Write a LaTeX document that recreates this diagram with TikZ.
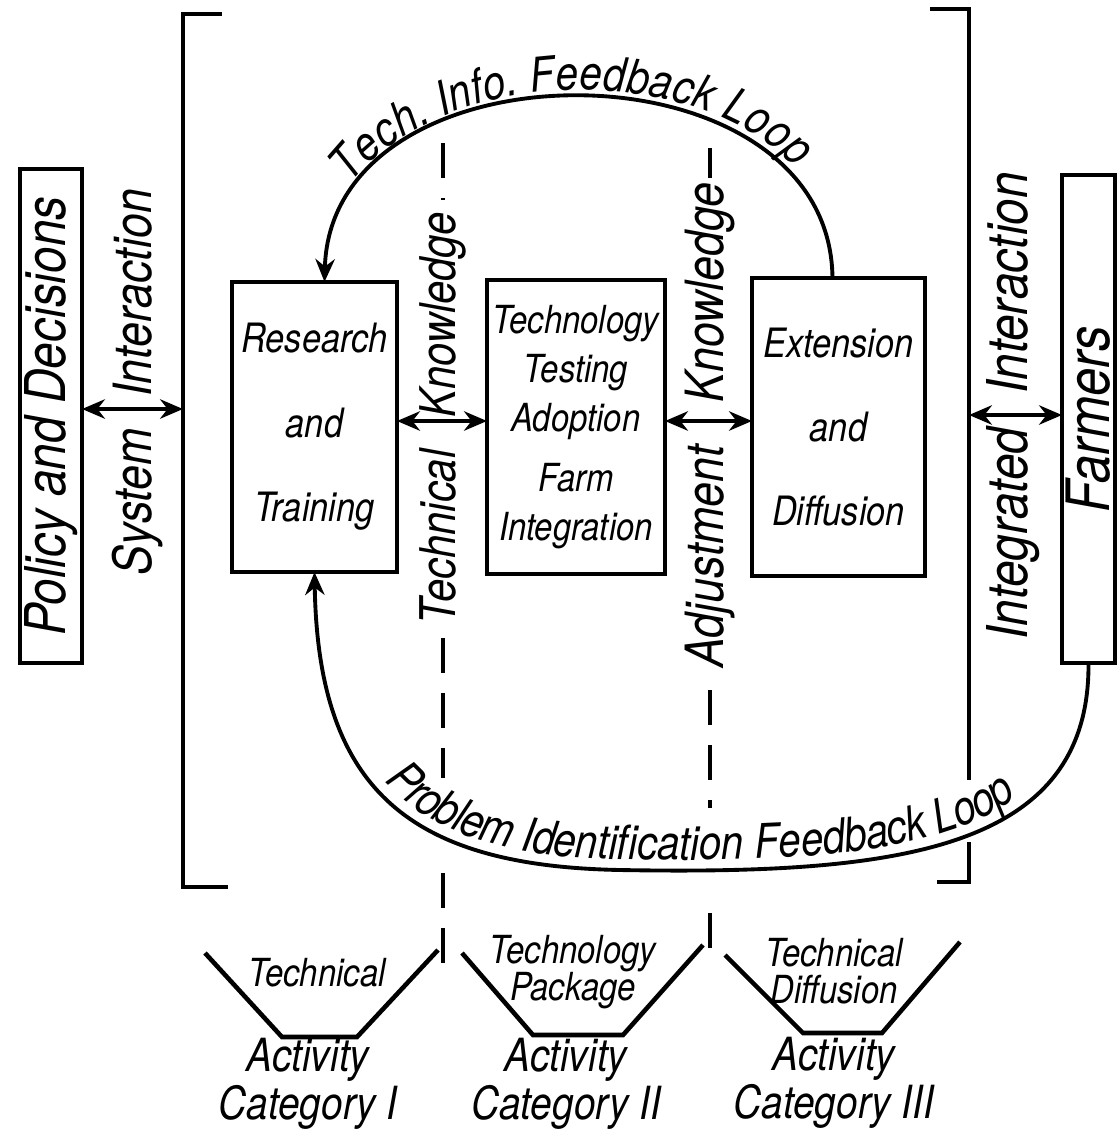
\documentclass[tikz,border=0pt]{standalone}
\usepackage{fontspec}
\setmainfont{TeX Gyre Heros}[FakeStretch=0.85]
\usetikzlibrary{arrows.meta,decorations.text,calc}

\tikzset{>={Stealth[length=6.5pt,width=5.5pt]}}

\begin{document}
\begin{tikzpicture}[x=0.01cm,y=-0.01cm,
  box/.style={draw,line width=1.1pt,inner sep=0pt,outer sep=0pt,align=center,font=\itshape},
  lbl/.style={rotate=90,inner sep=0pt,font=\itshape},
  brk/.style={line width=1.4pt},
  dsh/.style={line width=1pt,dash pattern=on 3.5mm off 2mm},
  fun/.style={line width=1.3pt},
  ftxt/.style={align=center,inner sep=0pt,font=\itshape\fontsize{11}{10.5}\selectfont},
  cat/.style={align=center,inner sep=0pt,font=\itshape\fontsize{13}{12}\selectfont},
  loop/.style={line width=1.1pt}]

\useasboundingbox (0,0) rectangle (1119,1135);

% side boxes
\node[box,rotate=90,minimum width=4.93cm,minimum height=0.62cm,
  font=\itshape\fontsize{16}{16}\selectfont] (policy) at (51,416) {Policy and Decisions};
\node[box,rotate=90,minimum width=4.88cm,minimum height=0.53cm,
  font=\itshape\fontsize{17}{17}\selectfont] (farmers) at (1088.5,419) {Farmers};

% system boundary
\coordinate (sysL) at (183,409);
\coordinate (sysR) at (969,415);
\draw[brk] (222,14) -- (183,14) -- (183,887) -- (228,887);
\draw[brk] (930,9) -- (969,9) -- (969,780);
\draw[brk] (969,842) -- (969,882) -- (937,882);
\draw[<->,line width=1.1pt] (policy.south |- sysL) -- (sysL);
\draw[<->,line width=1.1pt] (sysR) -- (sysR -| farmers.north);
\node[lbl,font=\itshape\fontsize{15}{15}\selectfont] (sysint) at (138,382) {System\hspace{0.6em}Interaction};
\node[lbl,font=\itshape\fontsize{16}{16}\selectfont] (intint) at (1013,406) {Integrated\hspace{0.6em}Interaction};

% activity boxes
\node[box,minimum width=1.65cm,minimum height=2.9cm,
  font=\itshape\fontsize{11.5}{24}\selectfont] (res) at (314.5,427) {Research\\and\\Training};
\node[box,minimum width=1.78cm,minimum height=2.93cm,
  font=\itshape\fontsize{11}{14}\selectfont] (tech) at (576,427) {Technology\\Testing\\Adoption\\[3pt]Farm\\Integration};
\node[box,minimum width=1.73cm,minimum height=2.98cm,
  font=\itshape\fontsize{11.5}{24}\selectfont] (ext) at (838.5,427) {Extension\\and\\Diffusion};
\draw[<->,line width=1.1pt] ($(res.east)+(0,-6)$) -- ($(tech.west)+(0,-6)$);
\draw[<->,line width=1.1pt] ($(tech.east)+(0,-6)$) -- ($(ext.west)+(0,-6)$);

% knowledge dividers
\node[lbl,font=\itshape\fontsize{14}{14}\selectfont] (techknow) at (443,418) {Technical\hspace{0.65em}Knowledge};
\node[lbl,font=\itshape\fontsize{15}{15}\selectfont] (adjknow) at (710,425) {Adjustment\hspace{0.8em}Knowledge};
\draw[dsh] (443,143) -- (443,200);
\draw[dsh] (443,638) -- (443,778);
\draw[dsh] (443,873) -- (443,972);
\draw[dsh] (710,148) -- (710,178);
\draw[dsh] (710,690) -- (710,808);
\draw[dsh] (710,913) -- (710,952);

% feedback loops
\coordinate (tiL) at ($(res.north)+(10,0)$);
\coordinate (tiR) at ($(ext.north)+(-6,0)$);
\draw[<-,loop,postaction={decorate,decoration={text along path,raise=2pt,
  text align={left indent=1.0cm},
  text={|\itshape\fontsize{13.5}{13.5}\selectfont|Tech. Info. Feedback Loop}}}]
  (tiL) .. controls (331,36) and (830,36) .. (tiR);
\draw[<-,loop,postaction={decorate,decoration={text along path,raise=3pt,
  text align={left indent=2.3cm},
  text={|\itshape\fontsize{13.5}{13.5}\selectfont|Problem Identification Feedback Loop}}}]
  (res.south) .. controls (318,790) and (410,866) .. (620,870)
  .. controls (900,875) and (1090,850) .. (farmers.west);

% activity categories
\draw[fun] (205,953) -- (282,1037) -- (357,1037) -- (438,950);
\draw[fun] (462,953) -- (533,1035) -- (623,1035) -- (703,945);
\draw[fun] (725,955) -- (803,1033) -- (882,1033) -- (960,942);
\node[ftxt] (fun1) at (317,973) {Technical};
\node[ftxt] (fun2) at (573,972) {Technology\\Package};
\node[ftxt] (fun3) at (834,971) {Technical\\Diffusion};
\node[cat] (cat1) at (308,1084) {Activity\\Category I};
\node[cat] (cat2) at (566,1084) {Activity\\Category II};
\node[cat] (cat3) at (834,1083) {Activity\\Category III};
\end{tikzpicture}
\end{document}
